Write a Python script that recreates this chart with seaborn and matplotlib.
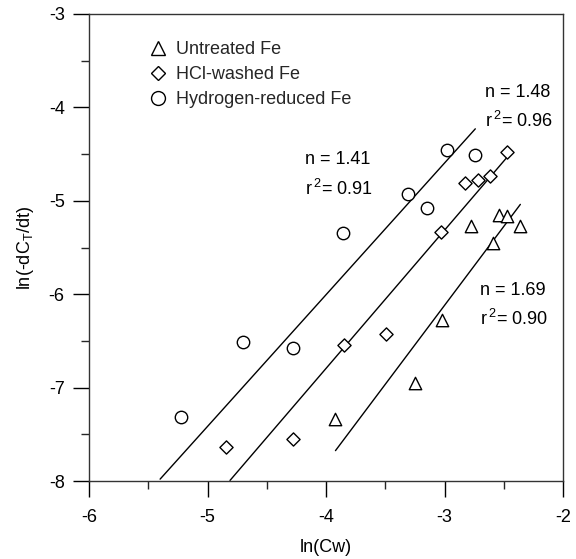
import numpy as np
import pandas as pd
import matplotlib
matplotlib.use("Agg")
import matplotlib.pyplot as plt
import seaborn as sns
from matplotlib.lines import Line2D

# ---- data ----
untreated_x = [-3.92, -3.25, -3.02, -2.78, -2.59, -2.54, -2.47, -2.36]
untreated_y = [-7.34, -6.95, -6.28, -5.27, -5.455, -5.15, -5.16, -5.27]

hcl_x = [-4.84, -4.28, -3.85, -3.49, -3.03, -2.83, -2.72, -2.62, -2.47]
hcl_y = [-7.64, -7.55, -6.54, -6.43, -5.33, -4.81, -4.78, -4.73, -4.48]

h2_x = [-5.22, -4.70, -4.28, -3.86, -3.31, -3.15, -2.98, -2.74]
h2_y = [-7.31, -6.51, -6.58, -5.35, -4.93, -5.08, -4.46, -4.51]

series_names = ["Untreated Fe", "HCl-washed Fe", "Hydrogen-reduced Fe"]

# fitted lines: slope n, intercept, x-range
fit_slope = [1.69, 1.48, 1.41]
fit_intercept = [-1.05, -0.875, -0.366]
fit_xmin = [-3.92, -4.81, -5.40]
fit_xmax = [-2.36, -2.44, -2.74]

# annotations
ann_text = [["n = 1.69", r"r$\,^{2}$= 0.90"],
            ["n = 1.48", r"r$\,^{2}$= 0.96"],
            ["n = 1.41", r"r$\,^{2}$= 0.91"]]
ann_x = [-2.70, -2.66, -4.18]
ann_y = [[-5.96, -6.26], [-3.84, -4.14], [-4.56, -4.87]]

x_ticks = [-6, -5, -4, -3, -2]
y_ticks = [-8, -7, -6, -5, -4, -3]

# ---- plotting ----
sns.set_theme(style="ticks")
plt.rcParams["font.family"] = ["Liberation Sans", "DejaVu Sans"]
plt.rcParams["mathtext.fontset"] = "custom"
plt.rcParams["mathtext.rm"] = "Liberation Sans"
plt.rcParams["mathtext.it"] = "Liberation Sans:italic"
plt.rcParams["mathtext.default"] = "regular"
plt.rcParams["axes.unicode_minus"] = False

fig = plt.figure(figsize=(5.76, 5.59), dpi=100)
ax = fig.add_axes([89 / 576, 1 - 481 / 559, 474 / 576, 467 / 559])

markers = ["^", "D", "o"]
sizes = [80, 45, 80]
xs = [untreated_x, hcl_x, h2_x]
ys = [untreated_y, hcl_y, h2_y]

for i in range(3):
    df = pd.DataFrame({"x": xs[i], "y": ys[i]})
    sns.scatterplot(data=df, x="x", y="y", marker=markers[i], s=sizes[i],
                    facecolor="white", edgecolor="black", linewidth=1.0,
                    ax=ax, zorder=3)
    lx = np.array([fit_xmin[i], fit_xmax[i]])
    ly = fit_intercept[i] + fit_slope[i] * lx
    sns.lineplot(x=lx, y=ly, color="black", linewidth=1.0, ax=ax, zorder=2)
    for j in range(2):
        ax.text(ann_x[i], ann_y[i][j], ann_text[i][j], fontsize=13,
                va="center", ha="left", color="black")

ax.set_xlim(-6, -2)
ax.set_ylim(-8, -3)
ax.set_xticks(x_ticks)
ax.set_yticks(y_ticks)
ax.set_xticks([-5.5, -4.5, -3.5, -2.5], minor=True)
ax.set_yticks([-7.5, -6.5, -5.5, -4.5, -3.5], minor=True)
ax.tick_params(which="major", direction="out", length=11.5, width=1.0,
               labelsize=13, colors="black", top=False, right=False)
ax.tick_params(axis="x", which="major", pad=9)
ax.tick_params(axis="y", which="major", pad=6)
ax.tick_params(which="minor", direction="out", length=6, width=1.0,
               top=False, right=False)
for sp in ax.spines.values():
    sp.set_color("#333333")
    sp.set_linewidth(1.0)

ax.set_xlabel("ln(Cw)", fontsize=13, color="black", labelpad=9)
ax.set_ylabel(r"ln(-dC$_\mathrm{T}$/dt)", fontsize=13, color="black", labelpad=9)

handles = [Line2D([], [], linestyle="none", marker=m, markersize=ms,
                  markerfacecolor="white", markeredgecolor="black",
                  markeredgewidth=1.0)
           for m, ms in zip(markers, [10, 7.5, 10])]
ax.legend(handles, series_names, loc="upper left", bbox_to_anchor=(0.127, 0.942),
          frameon=False, fontsize=13, handlelength=1.0, handletextpad=0.5,
          labelspacing=0.45, borderpad=0, borderaxespad=0)

fig.savefig("out.png", dpi=100)
